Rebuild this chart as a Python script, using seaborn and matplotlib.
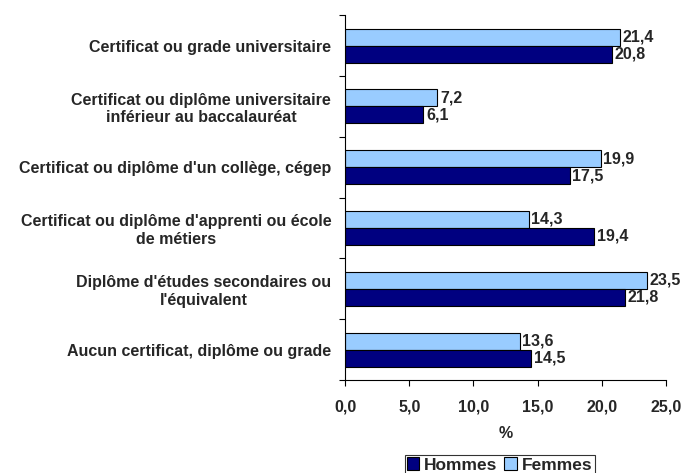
import pandas as pd
import numpy as np
import matplotlib.pyplot as plt
import seaborn as sns
from matplotlib.patches import Patch
from matplotlib.ticker import FixedLocator, FuncFormatter

# Data
categories = [
    "Certificat ou grade universitaire",
    "Certificat ou diplôme universitaire\ninférieur au baccalauréat",
    "Certificat ou diplôme d'un collège, cégep",
    "Certificat ou diplôme d'apprenti ou école\nde métiers",
    "Diplôme d'études secondaires ou\nl'équivalent",
    "Aucun certificat, diplôme ou grade",
]
hommes = [20.8, 6.1, 17.5, 19.4, 21.8, 14.5]
femmes = [21.4, 7.2, 19.9, 14.3, 23.5, 13.6]

col_h = '#000080'
col_f = '#99CCFF'

df = pd.DataFrame({
    'cat': categories * 2,
    'val': femmes + hommes,
    'sexe': ['Femmes'] * 6 + ['Hommes'] * 6,
})

sns.set_style('white')
plt.rcParams['font.family'] = ['Liberation Sans', 'DejaVu Sans']
plt.rcParams['font.weight'] = 'bold'

fs = 11.5

fig = plt.figure(figsize=(6.92, 4.73), dpi=100)
ax = fig.add_axes([0.4986, 0.1966, 0.4638, 0.7714])

sns.barplot(data=df, x='val', y='cat', hue='sexe', orient='h',
            hue_order=['Femmes', 'Hommes'], order=categories,
            palette={'Femmes': col_f, 'Hommes': col_h}, saturation=1,
            width=0.56, edgecolor='black', linewidth=0.8,
            errorbar=None, ax=ax, legend=False)

# value labels
for cont in ax.containers:
    ax.bar_label(cont, labels=[f"{v:.1f}".replace('.', ',') for v in cont.datavalues],
                 padding=2, fontsize=fs, fontweight='bold')

ax.set_xlim(0, 25)
ax.set_ylim(5.5, -0.5)
ax.xaxis.set_major_locator(FixedLocator([0, 5, 10, 15, 20, 25]))
ax.xaxis.set_major_formatter(FuncFormatter(lambda v, p: f"{v:.1f}".replace('.', ',')))
ax.tick_params(axis='x', bottom=True, direction='out', length=4, width=0.8, color='black',
               labelsize=fs, pad=10)

ax.set_yticks(range(len(categories)))
ax.set_yticklabels(categories, fontsize=fs, fontweight='bold', multialignment='center')
ax.tick_params(axis='y', which='major', left=False, length=0, pad=10)
ax.yaxis.set_minor_locator(FixedLocator(np.arange(-0.5, 6, 1)))
ax.tick_params(axis='y', which='minor', left=True, direction='out', length=4, width=0.8,
               color='black')

ax.set_ylabel('')
ax.set_xlabel('%', fontsize=fs, fontweight='bold', labelpad=8)

for s in ['top', 'right']:
    ax.spines[s].set_visible(False)
for s in ['left', 'bottom']:
    ax.spines[s].set_color('black')
    ax.spines[s].set_linewidth(0.8)

handles = [Patch(facecolor=col_h, edgecolor='black', linewidth=0.8, label='Hommes'),
           Patch(facecolor=col_f, edgecolor='black', linewidth=0.8, label='Femmes')]
leg = fig.legend(handles=handles, loc='center', bbox_to_anchor=(0.722, 0.017), ncol=2,
                 frameon=True, fancybox=False, fontsize=12.5, handlelength=0.7,
                 handleheight=0.7, handletextpad=0.3, columnspacing=0.4,
                 borderpad=0.12, borderaxespad=0)
leg.get_frame().set_edgecolor('black')
leg.get_frame().set_linewidth(0.8)

fig.savefig('out.png', dpi=100)
